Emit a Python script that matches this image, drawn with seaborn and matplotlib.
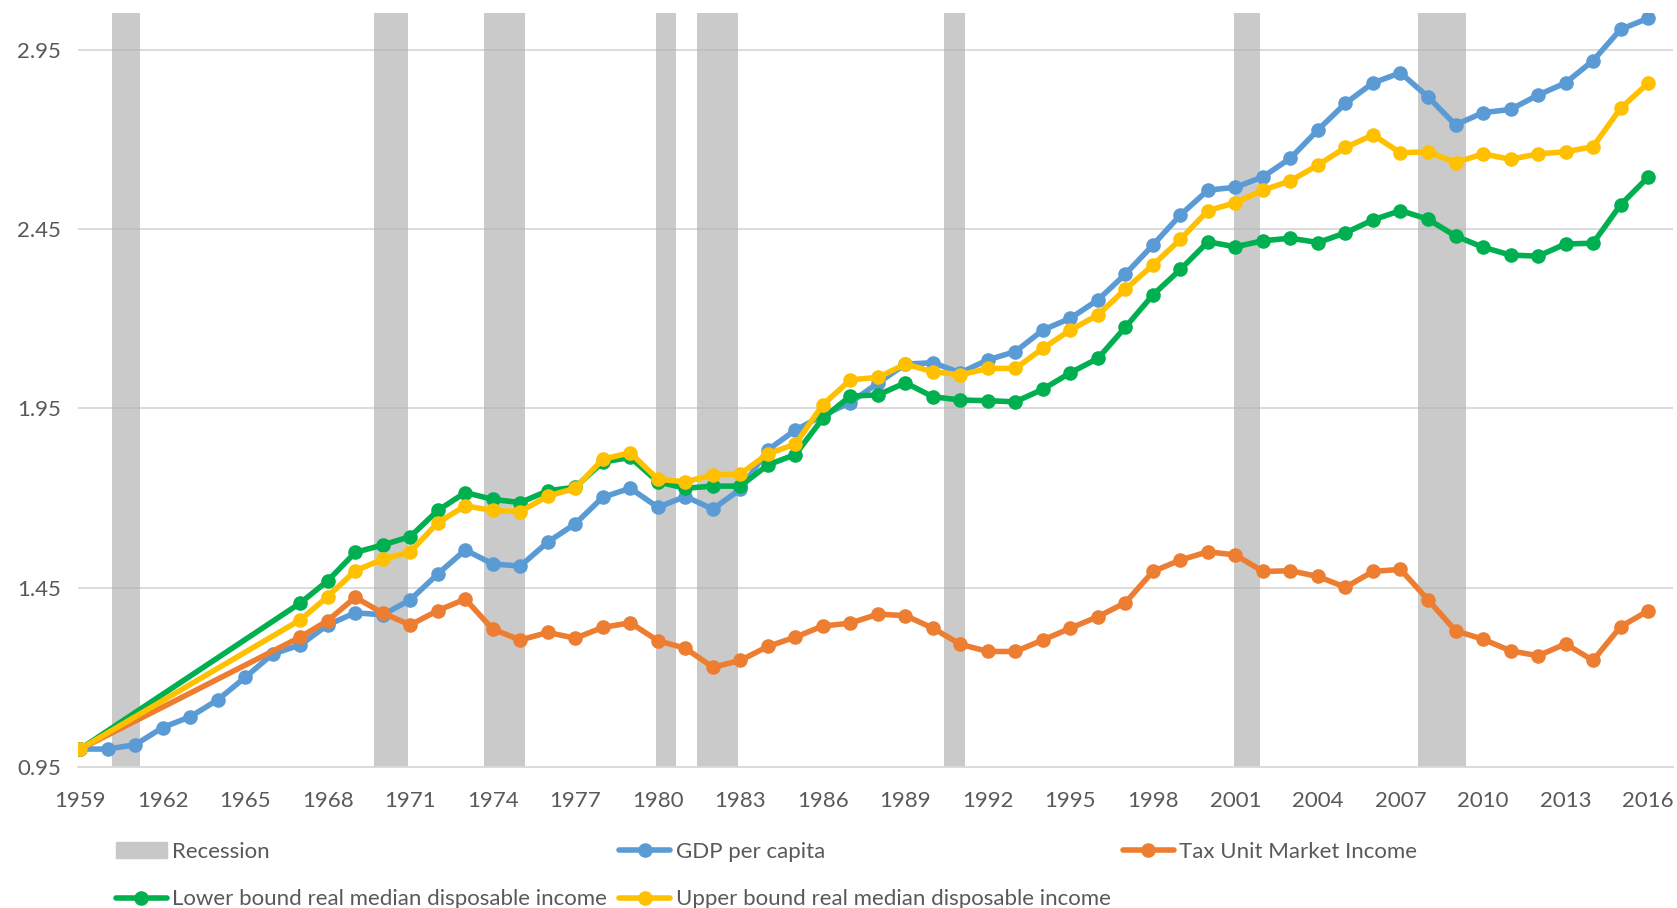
import seaborn as sns
import matplotlib.pyplot as plt
import matplotlib.patches as mpatches
from matplotlib.lines import Line2D
import pandas as pd

# ---- data ----
years = list(range(1959, 2017))

gdp_per_capita = [
    1.00, 1.00, 1.012, 1.06, 1.09, 1.137, 1.20, 1.265, 1.29, 1.346,
    1.38, 1.374, 1.416, 1.488, 1.555, 1.516, 1.51, 1.577, 1.628, 1.702,
    1.727, 1.674, 1.704, 1.669, 1.724, 1.834, 1.889, 1.93, 1.966, 2.02,
    2.073, 2.077, 2.049, 2.085, 2.108, 2.168, 2.201, 2.252, 2.324, 2.405,
    2.489, 2.558, 2.566, 2.595, 2.647, 2.726, 2.80, 2.857, 2.885, 2.818,
    2.74, 2.774, 2.783, 2.823, 2.857, 2.919, 3.006, 3.037,
]

# 1960-1966 not available for the income series
gap = [None] * 7

tax_unit_income = [1.00] + gap + [
    1.312, 1.358, 1.423, 1.379, 1.346, 1.386, 1.418, 1.334, 1.304, 1.325,
    1.309, 1.339, 1.352, 1.302, 1.281, 1.228, 1.247, 1.286, 1.312, 1.343,
    1.351, 1.376, 1.372, 1.337, 1.292, 1.272, 1.272, 1.304, 1.337, 1.369,
    1.408, 1.495, 1.527, 1.55, 1.541, 1.495, 1.497, 1.481, 1.451, 1.495,
    1.501, 1.416, 1.33, 1.306, 1.274, 1.26, 1.293, 1.247, 1.341, 1.385,
]

lower_bound = [1.00] + gap + [
    1.407, 1.469, 1.548, 1.569, 1.592, 1.665, 1.715, 1.696, 1.687, 1.72,
    1.73, 1.80, 1.813, 1.745, 1.727, 1.733, 1.733, 1.792, 1.821, 1.922,
    1.984, 1.987, 2.021, 1.982, 1.973, 1.971, 1.968, 2.003, 2.049, 2.089,
    2.176, 2.266, 2.337, 2.414, 2.40, 2.417, 2.424, 2.412, 2.439, 2.475,
    2.501, 2.477, 2.43, 2.399, 2.377, 2.374, 2.408, 2.41, 2.517, 2.594,
]

upper_bound = [1.00] + gap + [
    1.36, 1.425, 1.497, 1.529, 1.55, 1.631, 1.678, 1.665, 1.662, 1.705,
    1.727, 1.808, 1.826, 1.752, 1.745, 1.764, 1.767, 1.823, 1.85, 1.96,
    2.029, 2.036, 2.073, 2.052, 2.043, 2.061, 2.061, 2.117, 2.168, 2.21,
    2.282, 2.349, 2.421, 2.501, 2.523, 2.558, 2.584, 2.628, 2.677, 2.712,
    2.662, 2.665, 2.635, 2.659, 2.644, 2.659, 2.665, 2.679, 2.786, 2.856,
]

# recession periods (fractional years)
recession_start = [1960.17, 1969.68, 1973.68, 1979.93, 1981.42, 1990.42, 2000.93, 2007.65]
recession_end = [1961.17, 1970.91, 1975.17, 1980.67, 1982.92, 1991.18, 2001.91, 2009.39]

series_names = [
    "GDP per capita",
    "Tax Unit Market Income",
    "Lower bound real median disposable income",
    "Upper bound real median disposable income",
]
palette = {
    "GDP per capita": "#5B9BD5",
    "Tax Unit Market Income": "#ED7D31",
    "Lower bound real median disposable income": "#00B050",
    "Upper bound real median disposable income": "#FFC000",
}

df = pd.DataFrame({
    "year": years,
    series_names[0]: gdp_per_capita,
    series_names[1]: tax_unit_income,
    series_names[2]: lower_bound,
    series_names[3]: upper_bound,
})
df_long = df.melt(id_vars="year", var_name="series", value_name="value").dropna()

# ---- plot ----
sns.set_theme(style="white")
plt.rcParams["font.family"] = ["Lato", "DejaVu Sans"]

fig = plt.figure(figsize=(16.77, 9.08), dpi=100)
ax = fig.add_axes([0.0465, 0.1553, 0.951, 0.8307])

for s, e in zip(recession_start, recession_end):
    ax.axvspan(s, e, color="#B4B4B4", alpha=0.7, lw=0, zorder=1)

lw = 4.0
ms = 10.5
sns.lineplot(
    data=df_long, x="year", y="value", hue="series",
    hue_order=series_names, palette=palette,
    marker="o", markersize=ms, markeredgewidth=0, linewidth=lw,
    errorbar=None, legend=False, ax=ax, zorder=3,
)

ax.set_xlim(1958.92, 2016.9)
ax.set_ylim(0.95, 3.0526)
ax.set_xticks(years[::3])
ax.set_yticks([0.95, 1.45, 1.95, 2.45, 2.95])
ax.set_yticklabels([f"{v:.2f}" for v in [0.95, 1.45, 1.95, 2.45, 2.95]])
ax.set_xlabel("")
ax.set_ylabel("")

ax.set_axisbelow(True)
ax.yaxis.grid(True, color="#D9D9D9", lw=1.3)
ax.xaxis.grid(False)
for side in ["top", "left", "right"]:
    ax.spines[side].set_visible(False)
ax.spines["bottom"].set_color("#D9D9D9")
ax.spines["bottom"].set_linewidth(1.3)
ax.tick_params(axis="both", length=0, labelsize=16, labelcolor="#595959")
ax.tick_params(axis="y", pad=12)
ax.tick_params(axis="x", pad=17)

# legend, row-major order via column-major fill
rec_handle = mpatches.Patch(color="#C8C8C8")
def line_handle(name):
    return Line2D([], [], color=palette[name], lw=lw, marker="o", ms=ms, markeredgewidth=0)

handles = [rec_handle, line_handle(series_names[2]), line_handle(series_names[0]),
           line_handle(series_names[3]), line_handle(series_names[1])]
labels = ["Recession", series_names[2], series_names[0], series_names[3], series_names[1]]

fig.legend(
    handles, labels, loc="upper left", bbox_to_anchor=(0.069, 0.073),
    ncol=3, frameon=False, fontsize=16, labelcolor="#595959",
    handlelength=2.3, handleheight=0.75, handletextpad=0.25,
    columnspacing=0.54, labelspacing=1.25, borderpad=0, borderaxespad=0,
)

fig.savefig("out.png", dpi=100)
plt.close(fig)
